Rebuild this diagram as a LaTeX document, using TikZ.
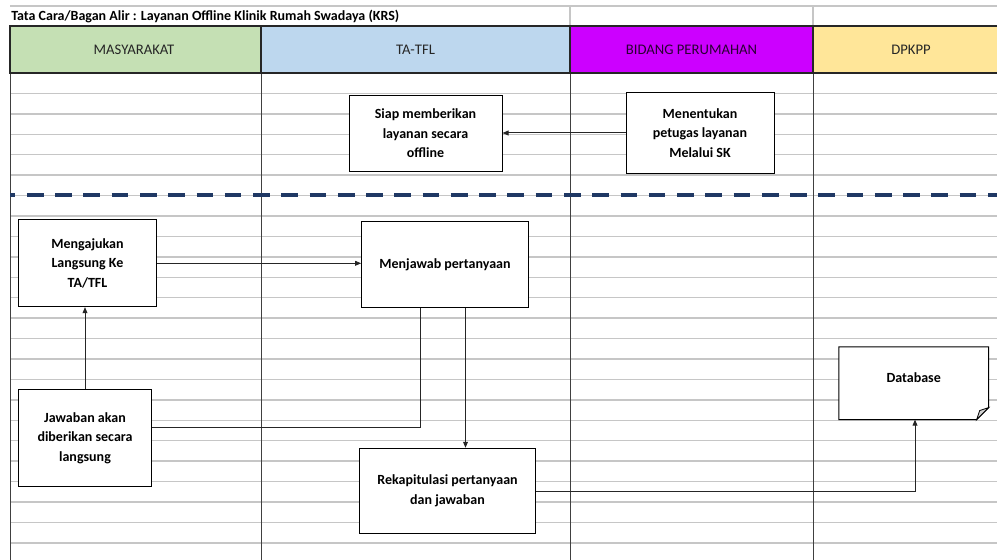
\documentclass[tikz,border=0pt]{standalone}
\usepackage{fontspec}
\setmainfont{Carlito}
\usetikzlibrary{arrows.meta,calc}
\definecolor{hgreen}{HTML}{C5E0B4}
\definecolor{hblue}{HTML}{BDD7EE}
\definecolor{hmag}{HTML}{CC00FF}
\definecolor{hyel}{HTML}{FFE699}
\definecolor{navy}{HTML}{1F3864}
\definecolor{hdrtext}{HTML}{262626}
\definecolor{magtext}{HTML}{2A0033}
\begin{document}
\begin{tikzpicture}[x=0.75pt,y=-0.75pt,
  box/.style={draw=black, line width=0.75pt, fill=white, align=center,
    font=\bfseries\fontsize{10.5}{14.6}\selectfont, inner sep=2pt},
  hdr/.style={font=\fontsize{11}{13}\selectfont, text=hdrtext},
  gridline/.style={gray!45, line width=1.1pt},
  colline/.style={black!75, line width=0.75pt},
  hdrcell/.style={draw=black!85, line width=0.8pt},
  conn/.style={black!85, line width=0.75pt},
  arr/.style={conn, -{Triangle[length=4.5pt,width=3.6pt]}}]
\useasboundingbox (0,0) rectangle (997,560);
\fill[white] (0,0) rectangle (997,560);
% grid
\foreach \k in {1,...,23} \draw[gridline] (10,{73+\k*20.43}) -- (997,{73+\k*20.43});
\draw[gridline] (10,6) -- (997,6);
\draw[gridline] (570,6) -- (570,26);
\draw[gridline] (813,6) -- (813,26);
% column lines
\foreach \xx in {10,261,570,813} \draw[colline] (\xx,73) -- (\xx,560);
% header
\filldraw[hdrcell, fill=hgreen] (10,26) rectangle (261,73);
\filldraw[hdrcell, fill=hblue] (261,26) rectangle (570,73);
\filldraw[hdrcell, fill=hmag] (570,26) rectangle (813,73);
\filldraw[hdrcell, fill=hyel] (813,26) rectangle (1000,73);
\node[hdr] (hm) at (134,50) {MASYARAKAT};
\node[hdr] (ht) at (415.5,50) {TA-TFL};
\node[hdr, text=magtext] (hb) at (691.5,50) {BIDANG PERUMAHAN};
\node[hdr] (hd) at (911,50) {DPKPP};
% title
\node[anchor=base west, inner sep=0pt, font=\bfseries\fontsize{10.5}{12}\selectfont] (title) at (11,20.5)
  {Tata Cara/Bagan Alir : Layanan Offline Klinik Rumah Swadaya (KRS)};
% dashed separator
\draw[navy, line width=3pt, dash pattern=on 12.5pt off 8.7pt, dash phase=8.5pt] (10,195) -- (997,195);
% boxes
\node[box, minimum width=114.75pt, minimum height=56.25pt] (siap) at (425.5,133.5)
  {Siap memberikan\\layanan secara\\offline};
\node[box, minimum width=111pt, minimum height=60pt] (tentu) at (700,133)
  {Menentukan\\petugas layanan\\Melalui SK};
\node[box, minimum width=103.8pt, minimum height=65pt] (aju) at (87.5,263.3)
  {Mengajukan\\Langsung Ke\\TA/TFL};
\node[box, minimum width=125pt, minimum height=64.2pt] (jawab) at (445,264.5)
  {Menjawab pertanyaan};
\node[box, minimum width=100pt, minimum height=73pt] (jwb) at (85,438)
  {Jawaban akan\\diberikan secara\\langsung};
\node[box, minimum width=132.3pt, minimum height=63.75pt] (rekap) at (447.5,490.8)
  {Rekapitulasi pertanyaan\\dan jawaban};
% database with folded corner
\node[minimum width=112pt, minimum height=54.2pt, inner sep=0pt] (db) at (913.7,383.2) {};
\draw[line width=0.75pt, fill=white] (db.north west) -- (db.north east)
  -- ($(db.south east)+(0,-12)$) -- ($(db.south east)+(-12,0)$) -- (db.south west) -- cycle;
\draw[line width=0.6pt, fill=gray!35] ($(db.south east)+(0,-12)$) -- ($(db.south east)+(-9,-9)$)
  -- ($(db.south east)+(-12,0)$) -- cycle;
\node[font=\bfseries\fontsize{10.5}{12}\selectfont] (dbt) at (913.7,378) {Database};
% connectors
\coordinate (c1) at (420.7,427);
\coordinate (c2) at (465.5,300);
\coordinate (c3) at (915,491);
\draw[arr] (tentu.west) -- (siap.east |- tentu.west);
\draw[arr] (aju.east) -- (jawab.west |- aju.east);
\draw[arr] (jwb.north) -- (jwb.north |- aju.south);
\draw[conn] (jawab.south -| c1) -- (c1) -- (jwb.east |- c1);
\draw[arr] (jawab.south -| c2) -- (rekap.north -| c2);
\draw[arr] (rekap.east |- c3) -- (c3) -- (c3 |- db.south);
\end{tikzpicture}
\end{document}
